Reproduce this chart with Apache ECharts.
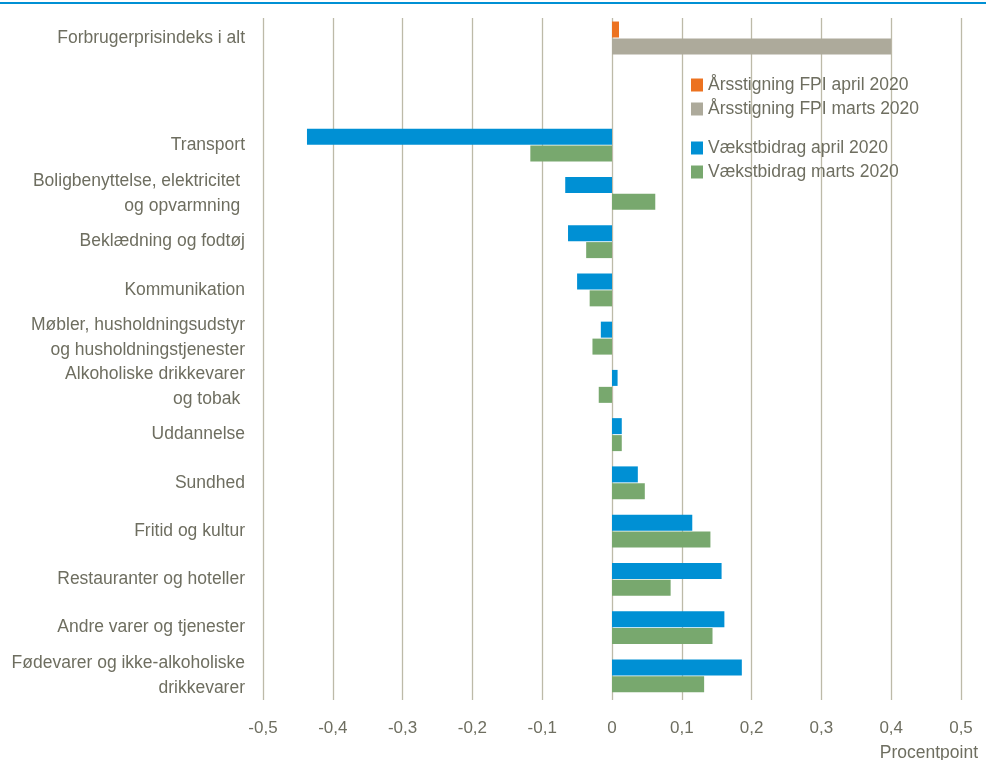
<!DOCTYPE html>
<html>
<head>
<meta charset="utf-8">
<script src="https://cdn.jsdelivr.net/npm/echarts@6/dist/echarts.min.js"></script>
<style>html,body{margin:0;padding:0;background:#fff}#c{width:986px;height:760px}</style>
</head>
<body>
<div id="c"></div>
<script>
const topCategories = ['Forbrugerprisindeks i alt'];
const categories = [
  'Transport',
  'Boligbenyttelse, elektricitet \nog opvarmning ',
  'Beklædning og fodtøj',
  'Kommunikation',
  'Møbler, husholdningsudstyr\nog husholdningstjenester',
  'Alkoholiske drikkevarer\nog tobak ',
  'Uddannelse',
  'Sundhed',
  'Fritid og kultur',
  'Restauranter og hoteller',
  'Andre varer og tjenester',
  'Fødevarer og ikke-alkoholiske\ndrikkevarer'
];
const fpiApril    = [0.01];
const fpiMarts    = [0.40];
const vaekstApril = [-0.437, -0.067, -0.063, -0.050, -0.016, 0.008, 0.014, 0.037, 0.115, 0.157, 0.161, 0.186];
const vaekstMarts = [-0.117, 0.062, -0.037, -0.032, -0.028, -0.019, 0.014, 0.047, 0.141, 0.084, 0.144, 0.132];
const xTicks = [-0.5, -0.4, -0.3, -0.2, -0.1, 0, 0.1, 0.2, 0.3, 0.4, 0.5];
const names = ['Årsstigning FPI april 2020', 'Årsstigning FPI marts 2020', 'Vækstbidrag april 2020', 'Vækstbidrag marts 2020'];

const txt = '#6e6e60';
const font = '"Liberation Sans", Arial, sans-serif';
const fs = 17.5;
const chart = echarts.init(document.getElementById('c'), null, {renderer: 'canvas'});
const bw = 16;
const gridColor = '#bdbaa8';
function xAx(gi, showLabels) {
  return {
    type: 'value', gridIndex: gi, min: xTicks[0], max: xTicks[xTicks.length - 1], interval: 0.1,
    axisLine: {show: false}, axisTick: {show: false},
    splitLine: {show: true, lineStyle: {color: gridColor, width: 1.3}},
    axisLabel: {show: showLabels, margin: 20, fontFamily: font, fontSize: 17, color: txt,
      formatter: v => String(+v.toFixed(1)).replace('.', ',')}
  };
}
function yAx(gi, data) {
  return {
    type: 'category', gridIndex: gi, data: data, inverse: true,
    axisLine: {show: false}, axisTick: {show: false}, splitLine: {show: false},
    axisLabel: {margin: 18, fontFamily: font, fontSize: fs, color: txt, lineHeight: 25, interval: 0}
  };
}
const gridBase = {left: 263, right: 25, containLabel: false, outerBoundsMode: 'none'};
chart.setOption({
  animation: false,
  backgroundColor: '#fff',
  graphic: [{type: 'rect', left: 0, top: 2, shape: {width: 986, height: 2}, style: {fill: '#0090D4'}}],
  title: {text: 'Procentpoint', right: 3, top: 739, textStyle: {fontFamily: font, fontSize: fs, fontWeight: 'normal', color: txt}},
  legend: [
    {data: [names[0], names[1]], orient: 'vertical', left: 686, top: 70, itemWidth: 12, itemHeight: 13, itemGap: 4, icon: 'rect',
     textStyle: {fontFamily: font, fontSize: fs, lineHeight: 20, color: txt}},
    {data: [names[2], names[3]], orient: 'vertical', left: 686, top: 133, itemWidth: 12, itemHeight: 13, itemGap: 4, icon: 'rect',
     textStyle: {fontFamily: font, fontSize: fs, lineHeight: 20, color: txt}}
  ],
  grid: [
    Object.assign({top: 18, height: 40}, gridBase),
    Object.assign({top: 58, height: 63}, gridBase),
    Object.assign({top: 121, bottom: 60}, gridBase)
  ],
  xAxis: [xAx(0, false), xAx(1, false), xAx(2, true)],
  yAxis: [yAx(0, topCategories), yAx(1, ['']), yAx(2, categories)],
  series: [
    {name: names[0], type: 'bar', xAxisIndex: 0, yAxisIndex: 0, data: fpiApril, barWidth: bw, barGap: '6%', itemStyle: {color: '#EC7220'}},
    {name: names[1], type: 'bar', xAxisIndex: 0, yAxisIndex: 0, data: fpiMarts, barWidth: bw, barGap: '6%', itemStyle: {color: '#ADAA9B'}},
    {name: names[2], type: 'bar', xAxisIndex: 2, yAxisIndex: 2, data: vaekstApril, barWidth: bw, barGap: '6%', itemStyle: {color: '#0090D4'}},
    {name: names[3], type: 'bar', xAxisIndex: 2, yAxisIndex: 2, data: vaekstMarts, barWidth: bw, barGap: '6%', itemStyle: {color: '#78A86E'}}
  ]
});
</script>
</body>
</html>
